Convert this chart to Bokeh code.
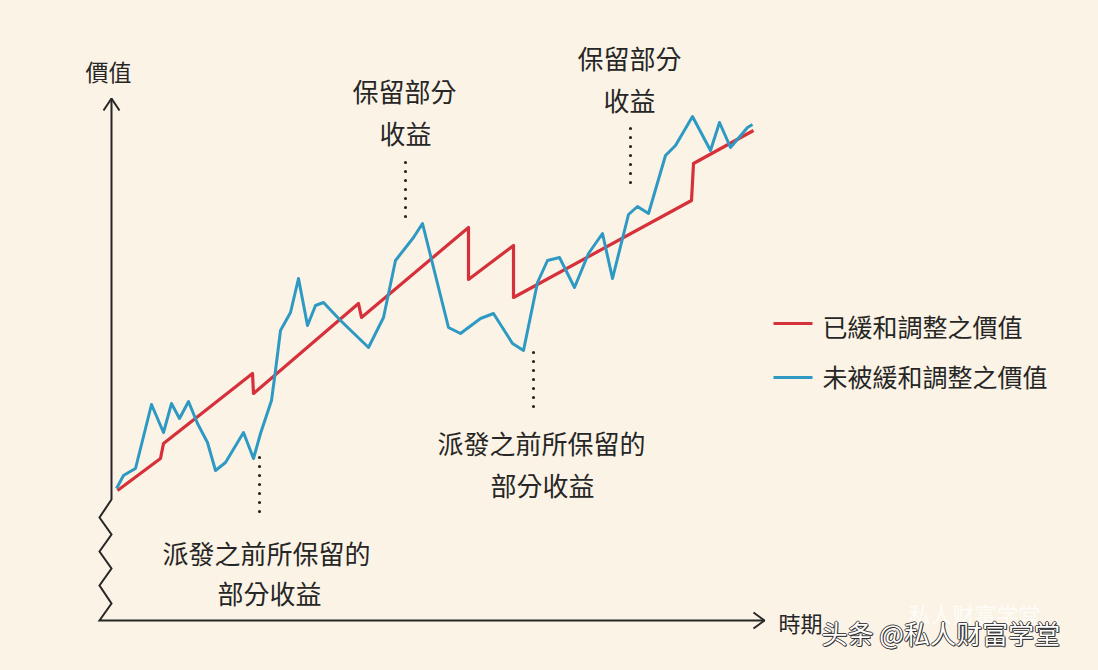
from bokeh.plotting import figure
from bokeh.models import Range1d, Label, GlobalInlineStyleSheet
from bokeh.embed import file_html
from bokeh.resources import INLINE

# ---- data (time units, value units) ----
unsmoothed_t = [16, 23, 28, 35, 51, 63, 71, 79, 88, 97, 107, 115, 125, 143, 153, 160, 171, 175,
                180, 190, 198, 207, 215, 223, 240, 268, 283, 295, 313, 322, 348, 360, 380, 393,
                412, 423, 437, 447, 459, 474, 488, 502, 512, 528, 537, 548, 565, 575, 592, 610,
                619, 630, 647, 652]
unsmoothed_v = [132, 145, 148, 152, 216, 188, 217, 202, 219, 197, 178, 150, 158, 188, 162, 187, 220, 250,
                290, 308, 342, 295, 315, 318, 300, 273, 303, 360, 383, 397, 293, 287, 302, 307,
                277, 270, 338, 360, 363, 333, 367, 387, 342, 406, 414, 407, 465, 475, 504, 470,
                498, 473, 493, 496]
smoothed_t = [17, 60, 63, 152, 153, 258, 261, 368, 368, 413, 413, 591, 593, 653]
smoothed_v = [130, 162, 177, 247, 227, 317, 303, 393, 341, 375, 323, 420, 457, 490]

legend_labels = ["已緩和調整之價值", "未被緩和調整之價值"]
y_label = "價值"
x_label = "時期"

BG = "#FBF3E5"
RED = "#D6313B"
BLUE = "#2E9AC4"
INK = "#262626"
FONT = "Noto Sans CJK TC"

p = figure(width=1082, height=654, x_range=Range1d(-100, 982), y_range=Range1d(-34, 620),
           output_backend="svg", toolbar_location=None, min_border=0,
           x_axis_location=None, y_axis_location=None,
           background_fill_color=BG, border_fill_color=BG)
p.grid.visible = False
p.outline_line_color = None
p.stylesheets = [GlobalInlineStyleSheet(css="body { background-color: %s; }" % BG)]

# ---- axes (vertical with break zig-zag, horizontal with arrow) ----
p.line([11, 11, -1, 11, -1, 11, -1, 11, -1, 664], [522, 121, 103, 86, 69, 52, 35, 17, 0, 0],
       line_color=INK, line_width=2, line_join="miter")
p.line([3, 11, 19], [510, 522, 510], line_color=INK, line_width=2)
p.line([653, 664, 653], [8, 0, -8], line_color=INK, line_width=2)

# ---- series ----
p.line(smoothed_t, smoothed_v, line_color=RED, line_width=3.2, line_join="round")
p.line(unsmoothed_t, unsmoothed_v, line_color=BLUE, line_width=3, line_join="round")

# ---- dotted leader lines ----
for (t, v0, v1) in [(305, 458, 398), (530, 492, 433), (159, 163, 103), (433, 268, 208)]:
    p.line([t, t], [v0, v1], line_color=INK, line_width=3.2, line_dash="0 9", line_cap="round")

def lab(x, y, text, size=26, align="center", color=INK, alpha=1.0):
    p.add_layout(Label(x=x, y=y, text=text, text_font=FONT, text_font_size="%dpx" % size,
                       text_color=color, text_alpha=alpha, text_align=align, text_baseline="middle"))

lab(8, 550, y_label, size=23)
lab(678, -1, x_label, size=22, align="left")

lab(304, 530, "保留部分")
lab(305, 488, "收益")
lab(529, 563, "保留部分")
lab(529, 521, "收益")
lab(166, 68, "派發之前所保留的")
lab(169, 28, "部分收益")
lab(441, 178, "派發之前所保留的")
lab(442, 136, "部分收益")

# ---- legend ----
p.line([673, 712], [297, 297], line_color=RED, line_width=3)
p.line([673, 712], [243, 243], line_color=BLUE, line_width=3)
lab(722, 295, legend_labels[0], size=25, align="left")
lab(722, 245, legend_labels[1], size=25, align="left")

# ---- watermark ----
lab(808, 8, "私人财富学堂", size=22, align="left", color="#FFFFFF", alpha=0.75)
for dx, dy in [(-1, 0), (1, 0), (0, -1), (0, 1), (1, -1)]:
    p.add_layout(Label(x=721 + dx, y=-12 + dy, text="头条 @私人财富学堂", text_font="Noto Sans CJK SC",
                       text_font_size="26px", text_color="#2a2a2a", text_alpha=0.85,
                       text_align="left", text_baseline="middle"))
p.add_layout(Label(x=721, y=-12, text="头条 @私人财富学堂", text_font="Noto Sans CJK SC",
                   text_font_size="26px", text_color="#FFFFFF",
                   text_align="left", text_baseline="middle"))

open("out.html", "w").write(file_html(p, INLINE))
